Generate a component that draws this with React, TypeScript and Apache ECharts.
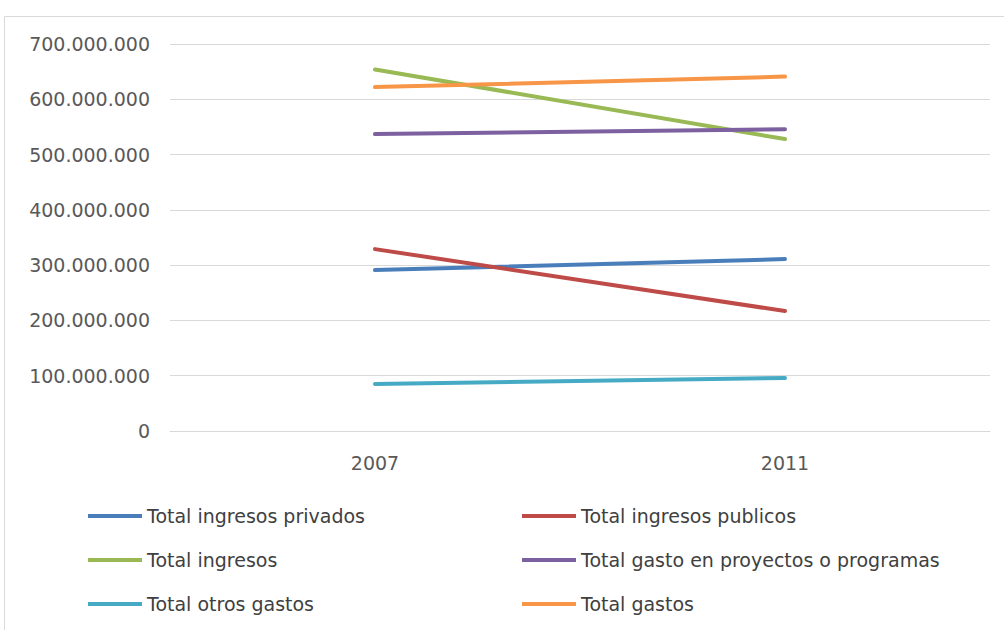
import React, { useEffect, useRef } from "react";
import * as echarts from "echarts";

const categories = ["2007", "2011"];
const seriesNames = [
  "Total ingresos privados",
  "Total ingresos publicos",
  "Total ingresos",
  "Total gasto en proyectos o programas",
  "Total otros gastos",
  "Total gastos",
];
const privados = [291000000, 311000000];
const publicos = [329000000, 217000000];
const ingresos = [654000000, 528000000];
const proyectos = [537000000, 546000000];
const otros = [85000000, 96000000];
const gastos = [622000000, 641000000];
const colors = ["#4a7ebb", "#be4b48", "#98b954", "#7d60a0", "#46aac5", "#f79646"];

const fmt = (v: number) => {
  if (v === 0) return "0";
  return String(Math.round(v)).replace(/\B(?=(\d{3})+(?!\d))/g, ".");
};

export default function App() {
  const ref = useRef<HTMLDivElement>(null);
  useEffect(() => {
    document.body.style.margin = "0";
    const chart = echarts.init(ref.current!, null, { renderer: "svg" });
    const values = [privados, publicos, ingresos, proyectos, otros, gastos];
    const font = "'DejaVu Sans', sans-serif";
    const legendText = { color: "#404040", fontSize: 19, fontFamily: font, lineHeight: 20 };
    chart.setOption({
      animation: false,
      backgroundColor: "#ffffff",
      graphic: [
        {
          type: "rect",
          shape: { x: 4.5, y: 16.5, width: 1010, height: 640 },
          style: { fill: "none", stroke: "#d9d9d9", lineWidth: 1 },
          silent: true,
        },
      ],
      grid: { left: 170, right: 14, top: 44, bottom: 199, containLabel: false },
      xAxis: {
        type: "category",
        data: categories,
        boundaryGap: true,
        axisLine: { lineStyle: { color: "#d9d9d9", width: 1 } },
        axisTick: { show: false },
        axisLabel: { color: "#595959", fontSize: 19, fontFamily: font, margin: 22 },
      },
      yAxis: {
        type: "value",
        min: 0,
        max: 700000000,
        interval: 100000000,
        axisLine: { show: false },
        axisTick: { show: false },
        splitLine: { lineStyle: { color: "#d9d9d9", width: 1 } },
        axisLabel: { color: "#595959", fontSize: 19, fontFamily: font, margin: 20, formatter: fmt },
      },
      legend: [
        {
          orient: "vertical",
          left: 88,
          top: 506,
          padding: 0,
          itemWidth: 54,
          itemHeight: 4,
          itemGap: 24,
          icon: "rect",
          data: [seriesNames[0], seriesNames[2], seriesNames[4]],
          textStyle: legendText,
        },
        {
          orient: "vertical",
          left: 522,
          top: 506,
          padding: 0,
          itemWidth: 54,
          itemHeight: 4,
          itemGap: 24,
          icon: "rect",
          data: [seriesNames[1], seriesNames[3], seriesNames[5]],
          textStyle: legendText,
        },
      ],
      series: seriesNames.map((name, i) => ({
        name,
        type: "line",
        data: values[i],
        symbol: "none",
        color: colors[i],
        lineStyle: { width: 4, color: colors[i], cap: "round" },
      })),
    });
    return () => chart.dispose();
  }, []);
  return <div ref={ref} style={{ width: 1004, height: 630 }} />;
}
